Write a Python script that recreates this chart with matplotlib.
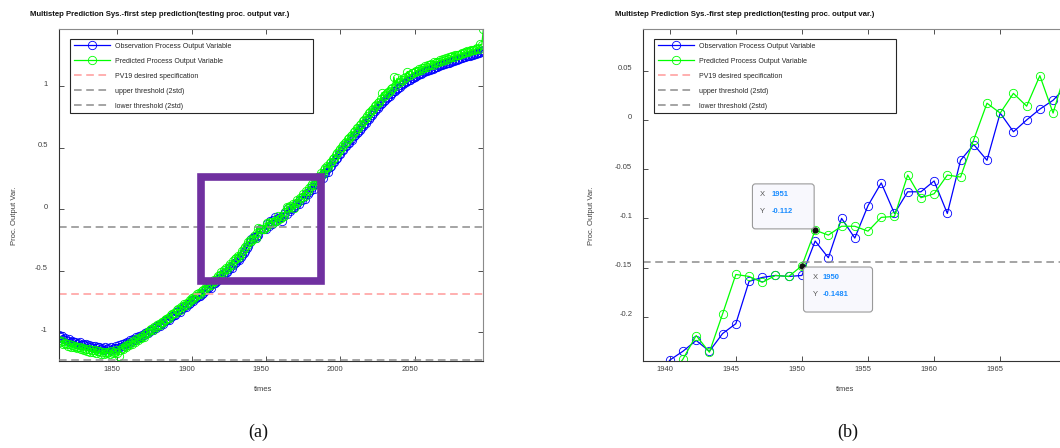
import numpy as np
import matplotlib
matplotlib.use("Agg")
import matplotlib.pyplot as plt
from matplotlib.patches import Rectangle, FancyBboxPatch
from matplotlib.ticker import FuncFormatter
from matplotlib.transforms import ScaledTranslation

plt.rcParams['font.family'] = ['Liberation Sans', 'DejaVu Sans']

# observed process output variable, one value per year from 1811
obs_values = [
    -1.025, -1.041, -1.032, -1.058, -1.049, -1.062, -1.071, -1.055, -1.078, -1.069,
    -1.083, -1.076, -1.092, -1.088, -1.079, -1.101, -1.094, -1.108, -1.097, -1.112,
    -1.104, -1.119, -1.111, -1.126, -1.113, -1.131, -1.122, -1.117, -1.135, -1.128,
    -1.141, -1.123, -1.136, -1.129, -1.144, -1.118, -1.133, -1.125, -1.110, -1.127,
    -1.106, -1.118, -1.098, -1.109, -1.087, -1.096, -1.079, -1.084, -1.066, -1.072,
    -1.055, -1.061, -1.043, -1.048, -1.031, -1.037, -1.019, -1.024, -1.008, -0.996,
    -1.003, -0.987, -0.979, -0.984, -0.962, -0.968, -0.951, -0.942, -0.947, -0.925,
    -0.931, -0.912, -0.904, -0.893, -0.899, -0.876, -0.868, -0.857, -0.861, -0.838,
    -0.829, -0.834, -0.812, -0.803, -0.791, -0.797, -0.776, -0.768, -0.759, -0.742,
    -0.748, -0.731, -0.724, -0.712, -0.703, -0.709, -0.688, -0.679, -0.665, -0.652,
    -0.644, -0.631, -0.637, -0.612, -0.598, -0.603, -0.581, -0.569, -0.557, -0.538,
    -0.546, -0.521, -0.507, -0.513, -0.489, -0.472, -0.478, -0.452, -0.437, -0.428,
    -0.409, -0.414, -0.389, -0.371, -0.356, -0.339, -0.318, -0.297, -0.268,
    -0.244, -0.235, -0.224, -0.235, -0.217, -0.207, -0.164, -0.160, -0.158, -0.159,
    -0.158, -0.123, -0.140, -0.100, -0.120, -0.087, -0.064, -0.095, -0.073, -0.073,
    -0.062, -0.095, -0.041, -0.025, -0.041, 0.007, -0.012, 0.000, 0.011, 0.020,
    0.034, 0.052, 0.038, 0.071, 0.076, 0.097, 0.083, 0.121, 0.124, 0.142,
    0.158, 0.179, 0.163, 0.201, 0.208, 0.236, 0.235, 0.268, 0.251, 0.291,
    0.296, 0.325, 0.305, 0.344, 0.349, 0.379, 0.381, 0.409, 0.418, 0.448,
    0.451, 0.479, 0.482, 0.511, 0.509, 0.541, 0.539, 0.568, 0.565, 0.596,
    0.602, 0.618, 0.629, 0.646, 0.661, 0.674, 0.692, 0.703, 0.721, 0.736,
    0.749, 0.767, 0.778, 0.796, 0.811, 0.823, 0.839, 0.852, 0.861, 0.878,
    0.889, 0.901, 0.913, 0.921, 0.936, 0.944, 0.957, 0.963, 0.978, 0.986,
    0.994, 1.008, 1.013, 1.021, 1.034, 1.038, 1.049, 1.052, 1.063, 1.068,
    1.074, 1.083, 1.086, 1.095, 1.099, 1.108, 1.111, 1.119, 1.123, 1.131,
    1.134, 1.141, 1.138, 1.149, 1.153, 1.158, 1.162, 1.167, 1.171, 1.176,
    1.179, 1.184, 1.188, 1.191, 1.197, 1.201, 1.205, 1.208, 1.213, 1.217,
    1.221, 1.224, 1.229, 1.232, 1.236, 1.241, 1.243, 1.248, 1.252, 1.256,
    1.259, 1.263, 1.268, 1.271, 1.277, 1.284, 1.296,
]

# first step prediction of the same variable
pred_values = [
    -1.062, -1.078, -1.071, -1.093, -1.088, -1.097, -1.109, -1.094, -1.118, -1.105,
    -1.121, -1.112, -1.131, -1.124, -1.117, -1.139, -1.128, -1.146, -1.133, -1.151,
    -1.139, -1.157, -1.145, -1.163, -1.148, -1.171, -1.156, -1.152, -1.174, -1.162,
    -1.178, -1.158, -1.169, -1.163, -1.181, -1.151, -1.166, -1.158, -1.141, -1.169,
    -1.192, -1.148, -1.126, -1.137, -1.113, -1.121, -1.102, -1.108, -1.086, -1.094,
    -1.073, -1.079, -1.058, -1.064, -1.044, -1.051, -1.028, -1.036, -1.015, -1.004,
    -1.001, -0.983, -0.972, -0.979, -0.954, -0.961, -0.941, -0.934, -0.938, -0.914,
    -0.919, -0.901, -0.891, -0.881, -0.885, -0.861, -0.855, -0.842, -0.847, -0.822,
    -0.813, -0.819, -0.796, -0.788, -0.774, -0.781, -0.759, -0.751, -0.741, -0.724,
    -0.731, -0.712, -0.706, -0.693, -0.684, -0.691, -0.669, -0.659, -0.645, -0.631,
    -0.623, -0.609, -0.616, -0.589, -0.576, -0.581, -0.558, -0.546, -0.533, -0.513,
    -0.521, -0.496, -0.481, -0.488, -0.462, -0.446, -0.451, -0.425, -0.409, -0.401,
    -0.381, -0.387, -0.361, -0.343, -0.327, -0.311, -0.289, -0.271, -0.255,
    -0.262, -0.243, -0.219, -0.236, -0.197, -0.157, -0.159, -0.165, -0.158, -0.159,
    -0.1481, -0.112, -0.117, -0.108, -0.108, -0.113, -0.099, -0.098, -0.056, -0.079,
    -0.075, -0.056, -0.058, -0.020, 0.017, 0.007, 0.027, 0.014, 0.045, 0.007,
    0.052, 0.071, 0.064, 0.093, 0.102, 0.121, 0.109, 0.147, 0.151, 0.168,
    0.189, 0.201, 0.194, 0.227, 0.241, 0.262, 0.268, 0.296, 0.287, 0.319,
    0.331, 0.352, 0.339, 0.371, 0.385, 0.408, 0.417, 0.438, 0.452, 0.476,
    0.487, 0.506, 0.519, 0.541, 0.548, 0.571, 0.578, 0.598, 0.603, 0.627,
    0.634, 0.657, 0.661, 0.686, 0.694, 0.712, 0.727, 0.741, 0.756, 0.778,
    0.786, 0.808, 0.812, 0.837, 0.846, 0.864, 0.873, 0.893, 0.946, 0.921,
    0.926, 0.943, 0.951, 0.958, 0.979, 0.982, 1.071, 1.003, 1.062, 1.024,
    1.032, 1.051, 1.049, 1.062, 1.075, 1.118, 1.091, 1.087, 1.104, 1.102,
    1.113, 1.126, 1.119, 1.137, 1.134, 1.149, 1.146, 1.161, 1.157, 1.172,
    1.169, 1.183, 1.171, 1.192, 1.188, 1.199, 1.196, 1.208, 1.204, 1.217,
    1.213, 1.226, 1.221, 1.232, 1.237, 1.241, 1.238, 1.249, 1.251, 1.256,
    1.254, 1.263, 1.268, 1.266, 1.274, 1.281, 1.277, 1.288, 1.291, 1.294,
    1.292, 1.301, 1.306, 1.304, 1.338, 1.335, 1.460,
]

years = np.arange(1811, 1811 + len(obs_values))
obs = np.array(obs_values)
pred = np.array(pred_values)

pv19_spec = -0.6866
upper_thr = -0.1443
lower_thr = -1.2289

legend_labels = ['Observation Process Output Variable', 'Predicted Process Output Variable',
                 'PV19 desired specification', 'upper threshold (2std)', 'lower threshold (2std)']
title_text = 'Multistep Prediction Sys.-first step prediction(testing proc. output var.)'

# zoom region marked on panel (a)
zoom_box_years = (1906.7, 1987.1)
zoom_box_vals = (-0.584, 0.264)

# data tips shown on panel (b)
tip_years = [1951, 1950]

W, H = 1060, 448
fig = plt.figure(figsize=(W / 100, H / 100), dpi=100)


def px_axes(x0, x1, y_top, y_bot):
    return fig.add_axes([x0 / W, 1 - y_bot / H, (x1 - x0) / W, (y_bot - y_top) / H])


def draw_panel(ax, clip_lower):
    ax.plot(years, obs, '-o', color='#0000ff', lw=0.9, ms=6, mfc='none', mew=0.6,
            label=legend_labels[0])
    ax.plot(years, pred, '-o', color='#00ff00', lw=0.9, ms=6, mfc='none', mew=0.6,
            label=legend_labels[1])
    dash = (0, (5, 3))
    ax.axhline(pv19_spec, color='#ff9a9a', ls=dash, lw=1.1, label=legend_labels[2])
    ax.axhline(upper_thr, color='#8c8c8c', ls=dash, lw=1.1, label=legend_labels[3])
    ax.axhline(lower_thr, color='#8c8c8c', ls=dash, lw=1.1, label=legend_labels[4],
               clip_on=clip_lower, zorder=3)

    leg = ax.legend(loc='upper left', bbox_to_anchor=(0.026, 0.0, 0.572, 0.970),
                    mode='expand', borderaxespad=0, fontsize=5, labelspacing=1.15,
                    handlelength=5.2, handletextpad=0.8, borderpad=0.5,
                    fancybox=False, framealpha=1, numpoints=1)
    leg.get_frame().set_edgecolor('#262626')
    leg.get_frame().set_linewidth(0.8)
    for t in leg.get_texts():
        t.set_color('#262626')

    ax.tick_params(direction='in', length=3.5, width=0.6, top=True, right=True,
                   labelsize=5.5, labelcolor='#404040', color='#333333')
    ax.tick_params(axis='x', pad=4)
    ax.tick_params(axis='y', pad=8)
    for side in ['left', 'bottom']:
        ax.spines[side].set_color('#333333')
        ax.spines[side].set_linewidth(0.8)
    for side in ['top', 'right']:
        ax.spines[side].set_color('#8a8a8a')
        ax.spines[side].set_linewidth(0.8)
    ax.yaxis.set_major_formatter(FuncFormatter(lambda v, p: '%g' % round(v, 4)))
    ax.xaxis.set_major_formatter(FuncFormatter(lambda v, p: '%d' % v))


def shift_labels(ax):
    dx = ScaledTranslation(-5 / 100, 0, fig.dpi_scale_trans)
    dy = ScaledTranslation(0, 3 / 100, fig.dpi_scale_trans)
    for lab in ax.get_xticklabels():
        lab.set_transform(lab.get_transform() + dx)
    for lab in ax.get_yticklabels():
        lab.set_transform(lab.get_transform() + dy)


# panel (a): whole test range
ax1 = px_axes(59, 483.3, 29.3, 360.5)
draw_panel(ax1, clip_lower=False)
ax1.set_xlim(1811, 2096)
ax1.set_ylim(-1.230, 1.461)
ax1.set_xticks([1850, 1900, 1950, 2000, 2050])
ax1.set_yticks([-1, -0.5, 0, 0.5, 1])
ax1.add_patch(Rectangle((zoom_box_years[0], zoom_box_vals[0]),
                        zoom_box_years[1] - zoom_box_years[0],
                        zoom_box_vals[1] - zoom_box_vals[0],
                        fill=False, ec='#7030a0', lw=5.5, joinstyle='miter',
                        zorder=6, clip_on=False))

# panel (b): zoom on 1938-1970 (right part falls outside the picture)
ax2 = px_axes(643.3, 1066.3, 29.3, 360.7)
draw_panel(ax2, clip_lower=True)
ax2.set_xlim(1938, 1970)
ax2.set_ylim(-0.2446, 0.0921)
ax2.set_xticks([1940, 1945, 1950, 1955, 1960, 1965])
ax2.set_yticks([-0.2, -0.15, -0.1, -0.05, 0, 0.05])

# data tips (box geometry in inches relative to the tipped point)
tip_layout = {
    1951: dict(box=(-0.627, 0.013, 0.617, 0.45), tx=-0.553, vx=-0.437, ys=(0.36, 0.186)),
    1950: dict(box=(0.016, -0.463, 0.69, 0.45), tx=0.106, vx=0.206, ys=(-0.113, -0.283)),
}
for yr in tip_years:
    i = int(np.where(years == yr)[0][0])
    val = pred[i]
    ax2.plot(yr, val, 'o', color='#111111', ms=3.5, zorder=8)
    trans = fig.dpi_scale_trans + ScaledTranslation(yr, val, ax2.transData)
    lay = tip_layout[yr]
    bx, by, bw, bh = lay['box']
    ax2.add_patch(FancyBboxPatch((bx, by), bw, bh, boxstyle='round,pad=0,rounding_size=0.03',
                                 transform=trans, fc='#f8f8fd', ec='#9a9a9a', lw=0.8,
                                 zorder=9, clip_on=False))
    for name, txt, yy in [('X', '%d' % yr, lay['ys'][0]), ('Y', '%.4g' % val, lay['ys'][1])]:
        ax2.text(lay['tx'], yy, name, transform=trans, fontsize=5.5, color='#555555',
                 va='center', ha='left', zorder=10)
        ax2.text(lay['vx'], yy, txt, transform=trans, fontsize=5.5, color='#1a8cff',
                 fontweight='bold', va='center', ha='left', zorder=10)

shift_labels(ax1)
shift_labels(ax2)

# titles, axis labels and captions
for tx, ylx, xlx, capx, cap in [(30, 14, 263.5, 258, '(a)'), (615, 591.7, 845, 848, '(b)')]:
    fig.text(tx / W, 1 - 14 / H, title_text, ha='left', va='center', fontsize=5.6,
             fontweight='bold', color='#111111')
    fig.text(ylx / W, 1 - 216 / H, 'Proc. Output Var.', rotation=90, ha='center',
             va='center', fontsize=5.5, color='#404040')
    fig.text(xlx / W, 1 - 389 / H, 'times', ha='center', va='center', fontsize=5.5,
             color='#404040')
    fig.text(capx / W, 1 - 432 / H, cap, ha='center', va='center', fontsize=13,
             family='Liberation Serif', color='#111111')

fig.savefig('out.png', dpi=100)
